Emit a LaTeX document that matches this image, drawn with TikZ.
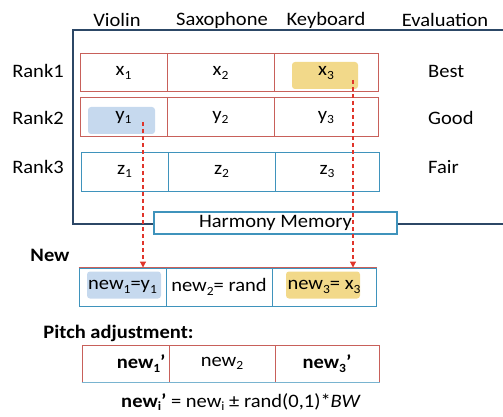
\documentclass[tikz,border=0pt]{standalone}
\usepackage{fontspec}
\setmainfont[FakeStretch=1.08]{Carlito}
\usetikzlibrary{arrows.meta}
\definecolor{hmred}{HTML}{C8605A}
\definecolor{hmblue}{HTML}{3F93BC}
\definecolor{hmnavy}{HTML}{2C4766}
\definecolor{hlblue}{HTML}{C6D9EE}
\definecolor{hlyellow}{HTML}{F2D98A}
\definecolor{arrred}{HTML}{E0352B}
\newcommand{\lowidx}[1]{\raisebox{-3.5pt}{\fontsize{12.5}{13}\selectfont#1}}

\begin{document}
\begin{tikzpicture}[
  x=1pt,y=-1pt,  font=\fontsize{19}{21}\selectfont,  cell/.style={draw=hmred,line width=1pt,rectangle,inner sep=0pt,minimum height=38pt},  bcell/.style={cell,draw=hmblue},  hl/.style={rectangle,rounded corners=3pt,inner sep=0pt,minimum height=27pt},  label/.style={inner sep=0pt},  bold/.style={inner sep=0pt,font=\fontsize{19}{21}\selectfont\bfseries},  arr/.style={draw=arrred,line width=1.2pt,dash pattern=on 4pt off 3pt,-{Triangle[width=6pt,length=6pt]}}
]
  \useasboundingbox (0,0) rectangle (503,417);
  % harmony memory frame
  \draw[hmnavy,line width=1.4pt] (73,30) rectangle (520,224);
  % column and row titles
  \node[label] (hv) at (117,20) {Violin};
  \node[label] (hs) at (222,20) {Saxophone};
  \node[label] (hk) at (326,20) {Keyboard};
  \node[label] (he) at (445,20) {Evaluation};
  \node[label] (r1) at (38,71) {Rank1};
  \node[label] (r2) at (38,118) {Rank2};
  \node[label] (r3) at (38,167) {Rank3};
  \node[label,anchor=west] (e1) at (428,71) {Best};
  \node[label,anchor=west] (e2) at (428,118) {Good};
  \node[label,anchor=west] (e3) at (428,167) {Fair};
  % highlights
  \node[hl,fill=hlyellow,minimum width=66pt] (hx3) at (325,75.5) {};
  \node[hl,fill=hlblue,minimum width=67pt] (hy1) at (121.5,120.5) {};
  \node[hl,fill=hlblue,minimum width=74pt] (hn1) at (124,285) {};
  \node[hl,fill=hlyellow,minimum width=74pt] (hn3) at (323,285) {};
  % memory rows
  \node[cell,minimum width=87pt] (x1) at (123.5,73) {x\lowidx{1}};
  \node[cell,minimum width=107pt] (x2) at (220.5,73) {x\lowidx{2}};
  \node[cell,minimum width=104pt] (x3) at (326,73) {x\lowidx{3}};
  \node[cell,minimum width=87pt,minimum height=39pt] (y1) at (123.5,117.5) {y\lowidx{1}};
  \node[cell,minimum width=107pt,minimum height=39pt] (y2) at (220.5,117.5) {y\lowidx{2}};
  \node[cell,minimum width=104pt,minimum height=39pt] (y3) at (326,117.5) {y\lowidx{3}};
  \node[bcell,minimum width=87pt,minimum height=39pt] (z1) at (124.5,171.5) {z\lowidx{1}};
  \node[bcell,minimum width=107pt,minimum height=39pt] (z2) at (221.5,171.5) {z\lowidx{2}};
  \node[bcell,minimum width=104pt,minimum height=39pt] (z3) at (327,171.5) {z\lowidx{3}};
  \node[draw=hmblue,fill=white,line width=1.5pt,minimum width=243pt,minimum height=22pt,inner sep=0pt] (hm) at (275.5,223) {Harmony Memory};
  % new harmony
  \node[bold] (lnew) at (50,255) {New};
  \node[bcell,minimum width=87pt] (n1) at (122.5,287) {new\lowidx{1}=y\lowidx{1}};
  \node[bcell,minimum width=106pt] (n2) at (219,287) {new\lowidx{2}= rand};
  \node[bcell,minimum width=104pt] (n3) at (324,287) {new\lowidx{3}= x\lowidx{3}};
  \draw[hmred,line width=1pt] (n1.north west) -- (n3.north east);
  % pitch adjustment
  \node[bold] (lpa) at (118.5,333) {Pitch adjustment:};
  \node[cell,minimum width=87pt,minimum height=37pt,text width=80pt,align=right] (p1) at (125.5,363.5) {\bfseries new\lowidx{1}’};
  \node[cell,minimum width=106pt,minimum height=37pt] (p2) at (222,363.5) {new\lowidx{2}};
  \node[cell,minimum width=104pt,minimum height=37pt] (p3) at (327,363.5) {\bfseries new\lowidx{3}’};
  \draw[hmblue!70,line width=1pt] (p1.south west) -- (p3.south east);
  \node[label] (fm) at (241,402) {\textbf{new\lowidx{i}’} = new\lowidx{i} ± rand(0,1)*\textit{BW}};
  % selected values
  \coordinate (s1) at (143,122);
  \coordinate (s3) at (353,80);
  \draw[arr] (s1) -- (s1 |- n1.north);
  \draw[arr] (s3) -- (s3 |- n3.north);
\end{tikzpicture}
\end{document}
